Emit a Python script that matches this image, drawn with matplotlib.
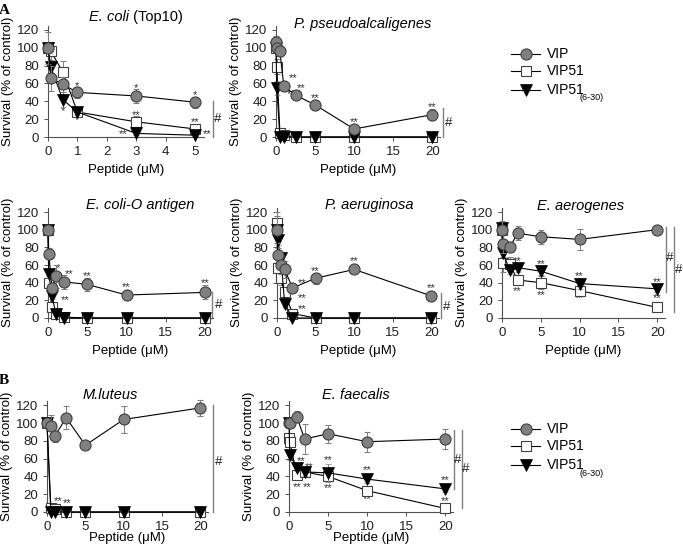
import matplotlib
matplotlib.use("Agg")
import matplotlib.pyplot as plt
from matplotlib.lines import Line2D

plt.rcParams['font.family'] = ['Liberation Sans', 'DejaVu Sans']

series_names = ['VIP', 'VIP51', 'VIP51']

# ---- Panel 1: E. coli (Top10)
x1 = [0, 0.1, 0.5, 1, 3, 5]
vip1 = [100, 66, 59, 50, 46, 39]
vip1_err = [18, 14, 8, 6, 8, 6]
v51_1 = [100, 96, 73, 28, 17, 9]
v51_1_err = [5, 10, 12, 3, 7, 3]
v630_1 = [100, 78, 42, 28, 4, 2]
v630_1_err = [5, 8, 8, 3, 2, 1]

# ---- Panel 2: P. pseudoalcaligenes
x2 = [0, 0.1, 0.5, 1, 2.5, 5, 10, 20]
vip2 = [107, 100, 96, 57, 47, 36, 9, 25]
vip2_err = [6, 4, 5, 5, 3, 6, 3, 6]
v51_2 = [100, 79, 5, 2, 0, 0, 0, 0]
v51_2_err = [3, 8, 3, 1, 0, 0, 0, 0]
v630_2 = [100, 55, 0, 0, 0, 0, 0, 0]
v630_2_err = [3, 8, 0, 0, 0, 0, 0, 0]

# ---- Panel 3: E. coli-O antigen
x3 = [0, 0.1, 0.5, 1, 2, 5, 10, 20]
vip3 = [100, 73, 34, 47, 41, 38, 26, 29]
vip3_err = [3, 6, 5, 13, 8, 7, 5, 8]
v51_3 = [100, 40, 12, 5, 1, 0, 0, 0]
v51_3_err = [3, 8, 3, 2, 1, 0, 0, 0]
v630_3 = [100, 50, 25, 5, 0, 0, 0, 0]
v630_3_err = [3, 5, 3, 2, 0, 0, 0, 0]

# ---- Panel 4: P. aeruginosa
x4 = [0, 0.1, 0.5, 1, 2, 5, 10, 20]
vip4 = [100, 71, 60, 55, 34, 45, 55, 25]
vip4_err = [15, 8, 10, 10, 5, 6, 4, 5]
v51_4 = [108, 57, 45, 29, 5, 0, 0, 0]
v51_4_err = [12, 5, 8, 5, 2, 1, 0, 0]
v630_4 = [100, 88, 68, 16, 0, 0, 0, 0]
v630_4_err = [5, 5, 5, 4, 1, 0, 0, 0]

# ---- Panel 5: E. aerogenes
x5 = [0, 0.1, 1, 2, 5, 10, 20]
vip5 = [100, 84, 80, 96, 92, 89, 100]
vip5_err = [10, 10, 5, 8, 8, 12, 2]
v51_5 = [100, 62, 61, 43, 40, 31, 12]
v51_5_err = [5, 10, 8, 6, 7, 5, 2]
v630_5 = [102, 74, 54, 57, 53, 39, 33]
v630_5_err = [5, 5, 4, 5, 4, 6, 3]

# ---- Panel 6: M.luteus
x6 = [0, 0.5, 1, 2.5, 5, 10, 20]
vip6 = [100, 97, 85, 106, 75, 104, 117]
vip6_err = [2, 12, 6, 13, 4, 15, 9]
v51_6 = [100, 5, 3, 0, 0, 0, 0]
v51_6_err = [2, 2, 1, 0, 0, 0, 0]
v630_6 = [100, 0, 0, 0, 0, 0, 0]
v630_6_err = [2, 0, 0, 0, 0, 0, 0]

# ---- Panel 7: E. faecalis
x7 = [0, 0.1, 1, 2, 5, 10, 20]
vip7 = [100, 100, 107, 82, 88, 79, 82]
vip7_err = [5, 5, 6, 17, 10, 11, 11]
v51_7 = [83, 79, 42, 45, 40, 24, 4]
v51_7_err = [5, 5, 4, 4, 4, 3, 2]
v630_7 = [100, 64, 50, 45, 44, 37, 26]
v630_7_err = [4, 5, 4, 4, 10, 4, 3]

# significance stars: (x, y, text)
stars1 = [(1, 57, '*'), (0.5, 29, '*'), (1, 19, '*'), (3, 55, '*'), (3, 25, '**'),
          (2.55, 3, '**'), (5, 47, '*'), (5, 17, '**'), (5.4, 3, '**')]
stars2 = [(2.2, 66, '**'), (1.9, 48, '**'), (3.2, 55, '**'), (5, 44, '**'), (10, 17, '**'), (20, 33, '**')]
stars3 = [(1.3, 56, '*'), (2.7, 50, '**'), (5, 47, '**'), (10, 35, '**'), (20, 39, '**'), (2.2, 20, '**')]
stars4 = [(3.2, 40, '**'), (3.2, 22, '**'), (3.2, 10, '**'), (5, 53, '**'), (10, 64, '**'), (20, 34, '**')]
stars5 = [(2, 65, '**'), (5, 61, '**'), (10, 48, '**'), (20, 41, '**'),
          (2, 30, '**'), (5, 26, '**'), (10, 22, '**'), (20, 22, '**')]
stars6 = [(1.5, 12, '**'), (2.6, 10, '**')]
stars7 = [(1.6, 57, '**'), (2.6, 51, '**'), (5, 58, '**'), (10, 47, '**'), (20, 36, '**'),
          (1.1, 28, '**'), (2.3, 28, '**'), (5, 27, '**'), (10, 14, '**'), (20, 12, '**')]

# significance bars: (x, y_low, y_high, hash_x, hash_y)
bars1 = [(5.6, 0, 40, 5.75, 20)]
bars2 = [(21.4, 0, 33, 22.1, 16)]
bars3 = [(20.9, 0, 29, 21.7, 15)]
bars4 = [(21.2, 0, 28, 22.0, 12)]
bars5 = [(21.1, 30, 103, 21.6, 68), (22.2, 7, 103, 22.7, 54)]
bars6 = [(21.6, 0, 120, 22.4, 56)]
bars7 = [(21.1, 26, 92, 21.6, 58), (22.1, 4, 92, 22.6, 48)]

panels = [
    dict(title=('E. coli', ' (Top10)'), x=x1, d=[(vip1, vip1_err), (v51_1, v51_1_err), (v630_1, v630_1_err)],
         stars=stars1, bars=bars1, xmax=5.3, xticks=[0, 1, 2, 3, 4, 5],
         box=(48, 137, 156, 111.5), tpos=(0.52, 1.08), xpad=4),
    dict(title=('P. pseudoalcaligenes', ''), x=x2, d=[(vip2, vip2_err), (v51_2, v51_2_err), (v630_2, v630_2_err)],
         stars=stars2, bars=bars2, xmax=21, xticks=[0, 5, 10, 15, 20],
         box=(276, 137, 164, 111.5), tpos=(0.53, 1.01), xpad=4),
    dict(title=('E. coli-O antigen', ''), x=x3, d=[(vip3, vip3_err), (v51_3, v51_3_err), (v630_3, v630_3_err)],
         stars=stars3, bars=bars3, xmax=21, xticks=[0, 5, 10, 15, 20],
         box=(48, 318, 165, 110.4), tpos=(0.56, 1.02), xpad=4),
    dict(title=('P. aeruginosa', ''), x=x4, d=[(vip4, vip4_err), (v51_4, v51_4_err), (v630_4, v630_4_err)],
         stars=stars4, bars=bars4, xmax=21, xticks=[0, 5, 10, 15, 20],
         box=(277, 318, 162, 110.4), tpos=(0.57, 1.02), xpad=4),
    dict(title=('E. aerogenes', ''), x=x5, d=[(vip5, vip5_err), (v51_5, v51_5_err), (v630_5, v630_5_err)],
         stars=stars5, bars=bars5, xmax=21, xticks=[0, 5, 10, 15, 20],
         box=(502, 318, 163, 110.4), tpos=(0.48, 1.01), xpad=4),
    dict(title=('M.luteus', ''), x=x6, d=[(vip6, vip6_err), (v51_6, v51_6_err), (v630_6, v630_6_err)],
         stars=stars6, bars=bars6, xmax=21, xticks=[0, 5, 10, 15, 20],
         box=(47, 512, 161, 111.2), tpos=(0.39, 1.05), xpad=-1),
    dict(title=('E. faecalis', ''), x=x7, d=[(vip7, vip7_err), (v51_7, v51_7_err), (v630_7, v630_7_err)],
         stars=stars7, bars=bars7, xmax=21, xticks=[0, 5, 10, 15, 20],
         box=(289, 512, 164, 111.2), tpos=(0.41, 1.05), xpad=-1),
]

W, H = 683, 550
fig = plt.figure(figsize=(W / 100, H / 100), dpi=100)

styles = [
    dict(marker='o', markersize=8, markerfacecolor='#808080', markeredgecolor='#404040', markeredgewidth=0.8),
    dict(marker='s', markersize=7, markerfacecolor='white', markeredgecolor='#404040', markeredgewidth=0.8),
    dict(marker='v', markersize=8, markerfacecolor='black', markeredgecolor='black', markeredgewidth=0.5),
]
draw_order = [1, 2, 0]
axcol = '#505050'

for p in panels:
    left, y0, w, h = p['box']
    ax = fig.add_axes([left / W, (H - y0) / H, w / W, h / H])
    for i in draw_order:
        ys, es = p['d'][i]
        ax.errorbar(p['x'], ys, yerr=es, color='black', lw=0.8, ecolor='#808080', elinewidth=0.7,
                    capsize=2.5, capthick=0.7, clip_on=False, zorder=3 + (0.1 * i if i else 1), **styles[i])
    for (sx, sy, st) in p['stars']:
        ax.text(sx, sy, st, fontsize=8, ha='center', va='center', color='#303030', clip_on=False)
    for (bx, bl, bh, hx, hy) in p['bars']:
        ax.plot([bx, bx], [bl, bh], color='#808080', lw=1.0, clip_on=False)
        ax.text(hx, hy, '#', fontsize=9.5, ha='center', va='center', color='#202020', clip_on=False)
    ax.set_xlim(0, p['xmax'])
    ax.set_ylim(0, 125)
    ax.set_yticks([0, 20, 40, 60, 80, 100, 120])
    ax.set_xticks(p['xticks'])
    for s in ['top', 'right']:
        ax.spines[s].set_visible(False)
    for s in ['left', 'bottom']:
        ax.spines[s].set_color(axcol)
        ax.spines[s].set_linewidth(0.8)
    ax.tick_params(axis='both', labelsize=9.5, colors='#202020', length=3, width=0.7, color=axcol)
    ax.set_ylabel('Survival (% of control)', fontsize=9.5, labelpad=2)
    ax.set_xlabel('Peptide (\u03bcM)', fontsize=9.5, labelpad=p['xpad'])
    it, rest = p['title']
    if rest:
        ax.text(p['tpos'][0], p['tpos'][1], it, transform=ax.transAxes, ha='right', va='center',
                fontsize=10.5, style='italic')
        ax.text(p['tpos'][0], p['tpos'][1], rest, transform=ax.transAxes, ha='left', va='center',
                fontsize=10.5)
    else:
        ax.text(p['tpos'][0], p['tpos'][1], it, transform=ax.transAxes, ha='center', va='center',
                fontsize=10.5, style='italic')

# overlay for panel letters and legends
ov = fig.add_axes([0, 0, 1, 1])
ov.set_xlim(0, W)
ov.set_ylim(H, 0)
ov.axis('off')
ov.patch.set_alpha(0)
ov.text(4, 10, 'A', fontsize=11, fontweight='bold', family='Liberation Serif', ha='center', va='center')
ov.text(4, 380, 'B', fontsize=11, fontweight='bold', family='Liberation Serif', ha='center', va='center')

for ly in [(54, 71, 90), (429, 446, 465)]:
    for i in range(3):
        ov.add_line(Line2D([511, 540], [ly[i], ly[i]], color='black', lw=0.8))
        ov.add_line(Line2D([525.5], [ly[i]], linestyle='none', **styles[i]))
        ov.text(547, ly[i], series_names[i], fontsize=10, ha='left', va='center')
    ov.text(580, ly[2] + 8, '(6-30)', fontsize=6.5, ha='left', va='center')

fig.savefig('out.png', dpi=100)
